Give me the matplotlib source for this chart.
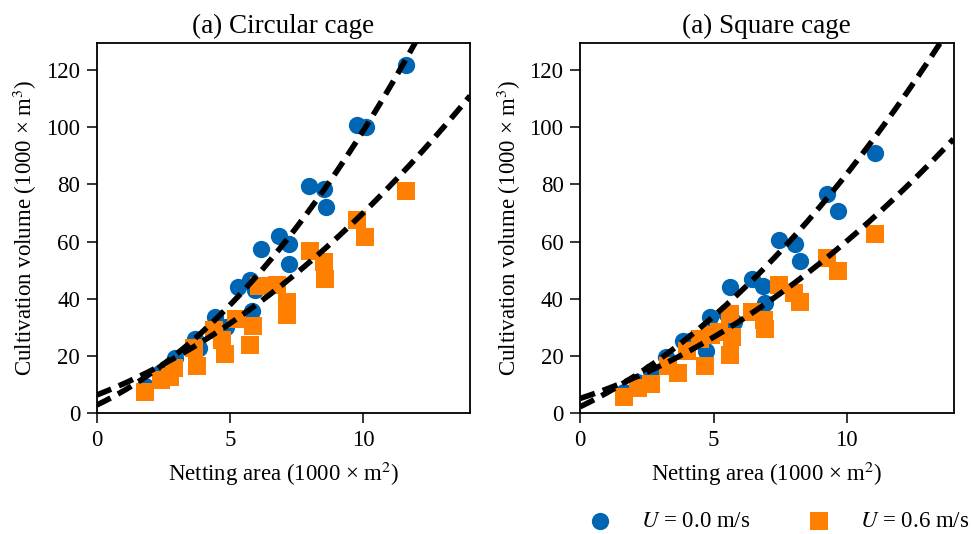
import numpy as np
import matplotlib
matplotlib.use('Agg')
import matplotlib.pyplot as plt

plt.rcParams['font.family'] = 'serif'
plt.rcParams['font.serif'] = ['Liberation Serif', 'DejaVu Serif']
plt.rcParams['mathtext.fontset'] = 'stix'

# Circular cage: netting area vs cultivation volume (both in 1000s)
circ_area_u0 = [1.82, 2.38, 2.94, 3.70, 3.82, 4.45, 4.85, 5.30, 5.76, 5.83, 5.93,
                6.16, 6.83, 7.20, 7.20, 7.96, 8.52, 8.58, 9.77, 10.09, 11.59]
circ_vol_u0 = [9.6, 14.0, 19.4, 25.8, 22.7, 33.7, 30.0, 44.3, 46.5, 35.6, 43.0,
               57.5, 61.8, 59.3, 52.3, 79.6, 78.5, 72.1, 100.8, 100.2, 121.7]
circ_area_u06 = [1.82, 2.40, 2.76, 2.88, 3.63, 3.75, 4.38, 4.70, 4.82, 5.22, 5.76,
                 5.86, 6.10, 6.75, 7.14, 7.14, 7.99, 8.52, 8.56, 9.77, 10.05, 11.59]
circ_vol_u06 = [7.5, 11.6, 12.8, 15.7, 22.7, 16.5, 29.0, 25.6, 20.6, 33.0, 23.8,
                30.5, 44.5, 44.8, 39.0, 34.3, 56.7, 52.9, 47.1, 67.4, 61.6, 77.7]

# Square cage
sq_area_u0 = [1.65, 2.13, 2.64, 3.22, 3.87, 4.10, 4.70, 4.85, 5.45, 5.63, 5.76,
              6.43, 6.86, 6.92, 7.45, 8.05, 8.25, 9.25, 9.65, 11.05]
sq_vol_u0 = [7.5, 11.0, 14.8, 19.7, 25.3, 25.3, 21.8, 33.8, 35.2, 44.0, 32.0,
             47.1, 44.6, 38.4, 60.7, 59.1, 53.2, 76.5, 70.7, 91.0]
sq_area_u06 = [1.63, 2.16, 2.64, 3.28, 3.68, 4.02, 4.50, 4.68, 4.90, 5.19, 5.63,
               5.63, 5.69, 6.43, 6.90, 6.93, 7.45, 8.02, 8.25, 9.25, 9.65, 11.05]
sq_vol_u06 = [5.8, 8.7, 10.2, 16.5, 14.0, 21.8, 26.0, 16.5, 27.5, 28.5, 34.8,
              20.3, 26.5, 35.4, 32.5, 29.4, 44.8, 41.9, 38.9, 54.1, 49.7, 62.8]

# quadratic fits (a, b, c) for a*x^2 + b*x + c
circ_fit_u0 = [0.519, 4.40, 2.9]
circ_fit_u06 = [0.274, 3.63, 6.4]
sq_fit_u0 = [0.364, 4.50, 2.3]
sq_fit_u06 = [0.244, 3.06, 5.2]

titles = ['(a) Circular cage', '(a) Square cage']
labels = [r'$U$ = 0.0 m/s', r'$U$ = 0.6 m/s']
blue = '#0066b3'
orange = '#ff8000'

panels = [
    (circ_area_u0, circ_vol_u0, circ_area_u06, circ_vol_u06, circ_fit_u0, circ_fit_u06),
    (sq_area_u0, sq_vol_u0, sq_area_u06, sq_vol_u06, sq_fit_u0, sq_fit_u06),
]

fig, axes = plt.subplots(1, 2, figsize=(9.71, 5.34), dpi=100)
fig.subplots_adjust(left=0.0996, right=0.982, bottom=0.226, top=0.92, wspace=0.295)

xfit = np.linspace(0, 14, 300)
for ax, title, (x0, y0, x6, y6, f0, f6) in zip(axes, titles, panels):
    ax.scatter(x0, y0, s=155, marker='o', color=blue, linewidths=0, label=labels[0], zorder=2)
    ax.scatter(x6, y6, s=155, marker='s', color=orange, linewidths=0, label=labels[1], zorder=3)
    ax.plot(xfit, np.polyval(f0, xfit), color='k', ls=(0, (2.8, 1.5)), lw=4, zorder=4)
    ax.plot(xfit, np.polyval(f6, xfit), color='k', ls=(0, (2.8, 1.5)), lw=4, zorder=4)

    ax.set_xlim(0, 14)
    ax.set_ylim(0, 129.5)
    ax.set_xticks([0, 5, 10])
    ax.set_yticks(np.arange(0, 121, 20))
    ax.tick_params(labelsize=16.5, length=7, width=1.1, pad=5)
    for sp in ax.spines.values():
        sp.set_linewidth(1.3)
    ax.set_title(title, fontsize=19.5, pad=7)
    ax.set_xlabel(r'Netting area (1000 × m$^{2}$)', fontsize=16.5, labelpad=6)
    ax.set_ylabel(r'Cultivation volume (1000 × m$^{3}$)', fontsize=16.5, labelpad=5)

handles, lbls = axes[1].get_legend_handles_labels()
fig.legend(handles, lbls, loc='center right', bbox_to_anchor=(1.02, 0.023), ncol=2,
           frameon=False, fontsize=16.5, columnspacing=2.0, handletextpad=0.8)

plt.savefig('out.png', dpi=100)
